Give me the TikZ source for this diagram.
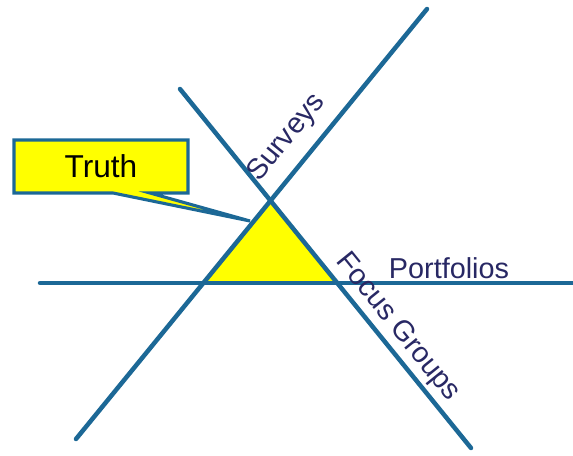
\documentclass[tikz,border=0pt]{standalone}
\usepackage{fontspec}
\setmainfont{Liberation Sans}
\definecolor{lineblue}{RGB}{28,104,150}
\definecolor{labelnavy}{RGB}{40,40,100}
\definecolor{truthyellow}{RGB}{255,255,0}
\pgfdeclarelayer{bg}
\pgfsetlayers{bg,main}
\tikzset{
  axis/.style={line width=3.2pt, draw=lineblue, line cap=round},
  lbl/.style={text=labelnavy, font=\fontsize{20.5}{24}\selectfont, inner sep=0pt},
  truthbox/.style={minimum width=4.35cm, minimum height=1.325cm, inner sep=0pt, outer sep=0pt, font=\fontsize{22.5}{26}\selectfont},
  calloutline/.style={fill=truthyellow, draw=lineblue, line width=2.2pt, line join=miter},
}

\begin{document}
\begin{tikzpicture}
    \useasboundingbox (0,0) rectangle (14.325,11.375);
    % end points
    \coordinate (s1) at (1.9,0.4);  \coordinate (s2) at (10.675,11.15);
    \coordinate (f1) at (4.5,9.15); \coordinate (f2) at (11.775,0.175);
    \coordinate (p1) at (1.0,4.3);  \coordinate (p2) at (14.325,4.3);
    % triangle corners
    \coordinate (apex) at (intersection of s1--s2 and f1--f2);
    \coordinate (left) at (intersection of s1--s2 and p1--p2);
    \coordinate (right) at (intersection of f1--f2 and p1--p2);
    \fill[truthyellow] (apex) -- (left) -- (right) -- cycle;
    % lines
    \draw[axis] (p1) -- (p2);
    \draw[axis] (s1) -- (s2);
    \draw[axis] (f1) -- (f2);
    % labels
    \node[lbl, rotate=51] (surveys) at (7.175,7.925) {Surveys};
    \node[lbl, rotate=-51] (focus) at (9.94,3.19) {Focus Groups};
    \node[lbl] (portfolios) at (11.225,4.675) {Portfolios};
    % callout
    \node[truthbox] (truth) at (2.525,7.2125) {Truth};
    \coordinate (tip) at (6.25,5.85);
    \begin{pgfonlayer}{bg}
        \draw[calloutline] (truth.north west) -- (truth.north east) -- (truth.south east)
            -- ([xshift=3.4cm]truth.south west) -- (tip) -- ([xshift=2.475cm]truth.south west)
            -- (truth.south west) -- cycle;
    \end{pgfonlayer}
\end{tikzpicture}
\end{document}
